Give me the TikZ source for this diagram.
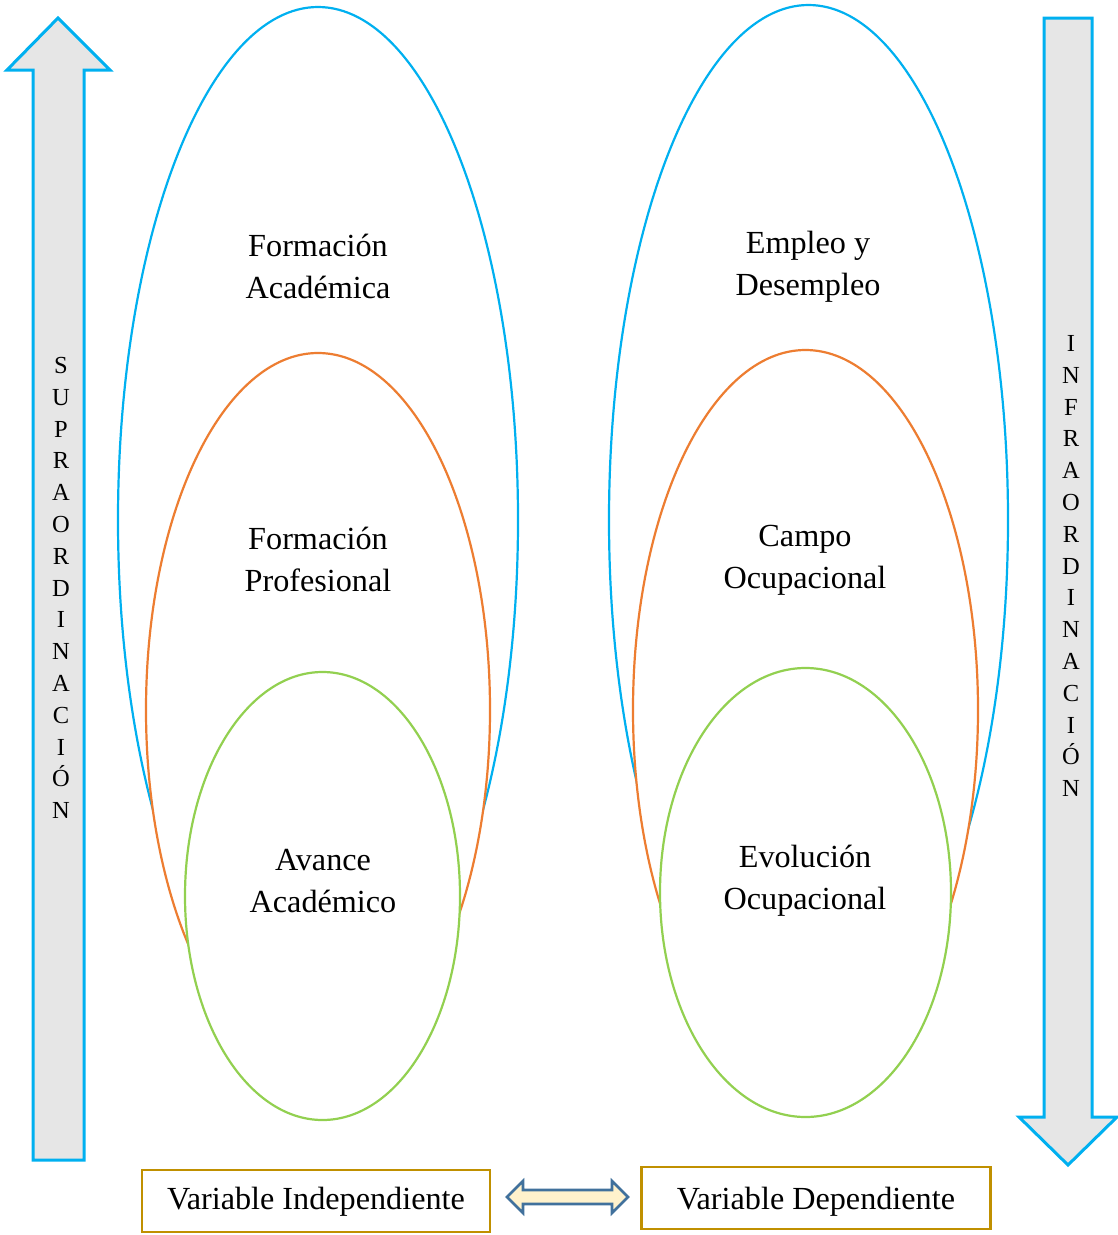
\documentclass[tikz,border=0pt]{standalone}
\usepackage{fontspec}
\setmainfont{Liberation Serif}
\usetikzlibrary{shapes.geometric}
\definecolor{skyb}{HTML}{00B0F0}
\definecolor{orng}{HTML}{ED7D31}
\definecolor{lgreen}{HTML}{92D050}
\definecolor{arrgray}{HTML}{E6E6E6}
\definecolor{gold}{HTML}{C09000}
\definecolor{dblue}{HTML}{41719C}
\definecolor{cream}{HTML}{FFF2CC}
\tikzset{
  oval/.style={ellipse, draw=#1, fill=white, line width=2.2pt, inner sep=0pt},
  lbl/.style={align=center, font=\fontsize{32.2}{42}\selectfont},
  bigarrow/.style={draw=skyb, fill=arrgray, line width=3pt, line join=miter},
  letters/.style={align=center, font=\fontsize{24.5}{31.8}\selectfont},
  varbox/.style={draw=gold, line width=2.6pt, minimum height=62pt, inner sep=0pt},
  vartext/.style={inner sep=0pt, font=\fontsize{32.2}{42}\selectfont},
  dbl/.style={draw=dblue, fill=cream, line width=2.6pt, line join=miter}
}
\begin{document}
\begin{tikzpicture}[x=1pt,y=-1pt]
\useasboundingbox (0,0) rectangle (1118,1235);
% left ovals
\node[oval=skyb, minimum width=400pt, minimum height=1026pt] (lb) at (318,520) {};
\node[oval=orng, minimum width=344pt, minimum height=714pt] (lo) at (318,710) {};
\node[oval=lgreen, minimum width=275pt, minimum height=448pt] (lg) at (322.5,896) {};
% right ovals
\node[oval=skyb, minimum width=399pt, minimum height=1030pt] (rb) at (808.5,520) {};
\node[oval=orng, minimum width=345pt, minimum height=720pt] (ro) at (805.5,710) {};
\node[oval=lgreen, minimum width=291pt, minimum height=449pt] (rg) at (805.5,892.5) {};
% labels
\node[lbl] (t1) at (318,266) {Formación\\Académica};
\node[lbl] (t2) at (318,559) {Formación\\Profesional};
\node[lbl] (t3) at (323,881) {Avance\\Académico};
\node[lbl] (t4) at (808,267) {Empleo y\\Desempleo};
\node[lbl] (t5) at (805,560) {Campo\\Ocupacional};
\node[lbl] (t6) at (805,881) {Evolución\\Ocupacional};
% vertical arrows
\draw[bigarrow] (33,1160) -- (33,70) -- (7,70) -- (58,18) -- (110,70) -- (84,70) -- (84,1160) -- cycle;
\draw[bigarrow] (1044,18) -- (1092,18) -- (1092,1117) -- (1117,1117) -- (1068,1165) -- (1019,1117) -- (1044,1117) -- cycle;
\node[letters] (sup) at (61,588) {S\\U\\P\\R\\A\\O\\R\\D\\I\\N\\A\\C\\I\\Ó\\N};
\node[letters] (inf) at (1071,566) {I\\N\\F\\R\\A\\O\\R\\D\\I\\N\\A\\C\\I\\Ó\\N};
% bottom boxes
\node[varbox, minimum width=348pt] (vi) at (316,1201) {};
\node[varbox, minimum width=349pt] (vd) at (816,1198) {};
\node[vartext] (vit) at (316,1202) {Variable Independiente};
\node[vartext] (vdt) at (816,1202) {Variable Dependiente};
% double arrow
\draw[dbl] (507,1197) -- (523,1181) -- (523,1190) -- (612,1190) -- (612,1181) -- (628,1197) -- (612,1213) -- (612,1204) -- (523,1204) -- (523,1213) -- cycle;
\end{tikzpicture}
\end{document}
